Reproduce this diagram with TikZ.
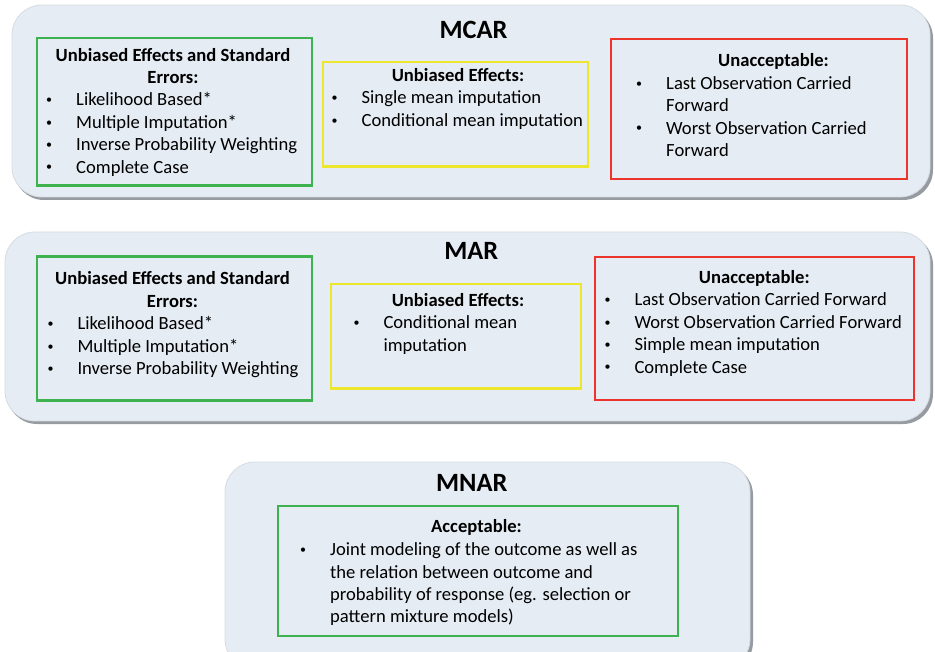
\documentclass[tikz,border=0pt]{standalone}
\usepackage{fontspec}
\setmainfont{Carlito}
\definecolor{panelfill}{RGB}{229,236,243}
\definecolor{paneledge}{RGB}{214,219,225}
\definecolor{panelshadow}{RGB}{150,155,162}
\definecolor{boxgreen}{RGB}{62,178,78}
\definecolor{boxyellow}{RGB}{236,230,44}
\definecolor{boxred}{RGB}{236,52,42}
\newcommand{\bitem}[1]{\hbox{\llap{\makebox[30pt][l]{\raisebox{2.2pt}{\fontsize{12}{12}\selectfont\textbullet}}}#1}}
\newcommand{\citem}[1]{\hbox{#1}}
\newcommand{\itemlist}[1]{\vtop{\baselineskip=22.4pt\lineskiplimit=-20pt #1}}
\tikzset{
  panel/.style={fill=panelfill, draw=paneledge, line width=0.8pt, rounded corners=30pt},
  pshadow/.style={fill=panelshadow, rounded corners=30pt},
  catbox/.style={draw=#1, line width=2.4pt, inner sep=0pt, anchor=north west},
  ptitle/.style={font=\fontsize{26.4}{30}\selectfont\bfseries, anchor=base, inner sep=0pt},
  bhead/.style={font=\fontsize{18.6}{22.4}\selectfont\bfseries, anchor=base, inner sep=0pt},
  blist/.style={font=\fontsize{18.6}{22.4}\selectfont, anchor=base west, inner sep=0pt}
}
\begin{document}
\begin{tikzpicture}[x=1pt,y=-1pt]
\useasboundingbox (0,0) rectangle (935,652);
\clip (0,0) rectangle (935,652);
% panels
\fill[pshadow] (14,8) rectangle (933,200);
\draw[panel] (12,5) rectangle (930,197);
\fill[pshadow] (7,235) rectangle (933,424);
\draw[panel] (5,232) rectangle (930,421);
\fill[pshadow] (227,465) rectangle (753,672);
\draw[panel] (225,462) rectangle (750,669);
% titles
\node[ptitle] (tmcar) at (473.5,38.3) {MCAR};
\node[ptitle] (tmar) at (471.3,260) {MAR};
\node[ptitle] (tmnar) at (471.7,491.7) {MNAR};
% MCAR boxes
\node[catbox=boxgreen, minimum width=275pt, minimum height=147.5pt] (g1) at (36,37) {};
\node[catbox=boxyellow, minimum width=265pt, minimum height=104.5pt] (y1) at (322,61) {};
\node[catbox=boxred, minimum width=296.5pt, minimum height=140pt] (r1) at (609.5,38) {};
% MAR boxes
\node[catbox=boxgreen, minimum width=275pt, minimum height=144pt] (g2) at (36,255.5) {};
\node[catbox=boxyellow, minimum width=250pt, minimum height=104.5pt] (y2) at (330,283) {};
\node[catbox=boxred, minimum width=319.5pt, minimum height=143pt] (r2) at (593.5,256) {};
% MNAR box
\node[catbox=boxgreen, minimum width=400pt, minimum height=130pt] (g3) at (277,505) {};
% MCAR texts
\node[bhead] (g1ha) at (173,61.7) {Unbiased Effects and Standard};
\node[bhead] (g1hb) at (173,83.3) {Errors:};
\node[blist] (g1l) at (76,106) {\itemlist{\bitem{Likelihood Based*}\bitem{Multiple Imputation*}\bitem{Inverse Probability Weighting}\bitem{Complete Case}}};
\node[bhead] (y1h) at (458,81.7) {Unbiased Effects:};
\node[blist] (y1l) at (361.5,104) {\itemlist{\bitem{Single mean imputation}\bitem{Conditional mean imputation}}};
\node[bhead] (r1h) at (773.5,66.7) {Unacceptable:};
\node[blist] (r1l) at (666,89.3) {\itemlist{\bitem{Last Observation Carried}\citem{Forward}\bitem{Worst Observation Carried}\citem{Forward}}};
% MAR texts
\node[bhead] (g2ha) at (172.5,285) {Unbiased Effects and Standard};
\node[bhead] (g2hb) at (172.5,307.3) {Errors:};
\node[blist] (g2l) at (77.3,330) {\itemlist{\bitem{Likelihood Based*}\bitem{Multiple Imputation*}\bitem{Inverse Probability Weighting}}};
\node[bhead] (y2h) at (458,306.7) {Unbiased Effects:};
\node[blist] (y2l) at (383.3,329) {\itemlist{\bitem{Conditional mean}\citem{imputation}}};
\node[bhead] (r2h) at (754.3,283.3) {Unacceptable:};
\node[blist] (r2l) at (634.3,306) {\itemlist{\bitem{Last Observation Carried Forward}\bitem{Worst Observation Carried Forward}\bitem{Simple mean imputation}\bitem{Complete Case}}};
% MNAR texts
\node[bhead] (g3h) at (476.5,532.3) {Acceptable:};
\node[blist] (g3l) at (330,555.7) {\itemlist{\bitem{Joint modeling of the outcome as well as}\citem{the relation between outcome and}\citem{probability of response (eg. selection or}\citem{pattern mixture models)}}};
\end{tikzpicture}
\end{document}
